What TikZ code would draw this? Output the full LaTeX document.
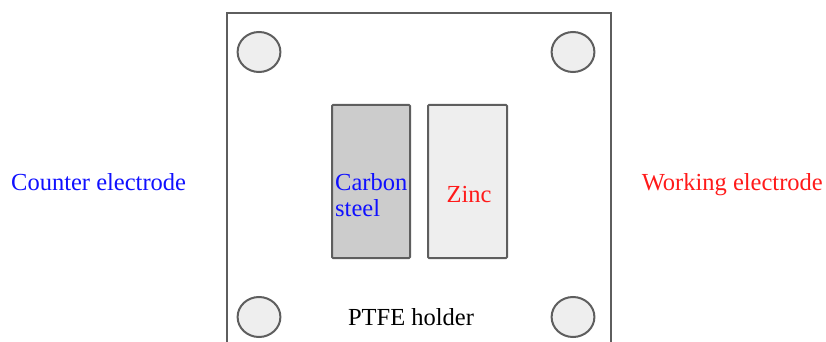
\documentclass[tikz,border=0pt]{standalone}
\usepackage{fontspec}
\setmainfont{Liberation Serif}
\definecolor{edge}{HTML}{5E5E5E}
\definecolor{lightfill}{HTML}{EEEEEE}
\definecolor{darkfill}{HTML}{CCCCCC}
\definecolor{blu}{HTML}{1010FF}
\definecolor{rd}{HTML}{FF1A1A}
\begin{document}
\begin{tikzpicture}[x=1pt,y=-1pt,
  outline/.style={draw=edge,line width=2pt},
  hole/.style={outline,fill=lightfill,circle,minimum width=40pt,inner sep=0pt,xscale=1.07},
  plate/.style={outline,rounded corners=1pt},
  lbl/.style={font=\fontsize{24.5}{26}\selectfont,inner sep=0pt}]
\useasboundingbox (0,0) rectangle (826,342);
\begin{scope}
\clip (0,0) rectangle (826,342);
\draw[outline] (227,13) rectangle (611,360);
\end{scope}
\node[hole] (h1) at (259,52) {};
\node[hole] (h2) at (573,52) {};
\node[hole] (h3) at (259,317) {};
\node[hole] (h4) at (573,317) {};
\draw[plate,fill=darkfill] (332,105) rectangle (410,258);
\draw[plate,fill=lightfill] (428,105) rectangle (507,258);
\node[lbl,text=blu,anchor=base west] (cs1) at (335,190) {Carbon};
\node[lbl,text=blu,anchor=base west] (cs2) at (335,216) {steel};
\node[lbl,text=rd,anchor=base] (zn) at (469,202) {Zinc};
\node[lbl,anchor=base] (ptfe) at (411,325) {PTFE holder};
\node[lbl,text=blu,anchor=base west] (ce) at (11,190) {Counter electrode};
\node[lbl,text=rd,anchor=base east] (we) at (823,190) {Working electrode};
\end{tikzpicture}
\end{document}
